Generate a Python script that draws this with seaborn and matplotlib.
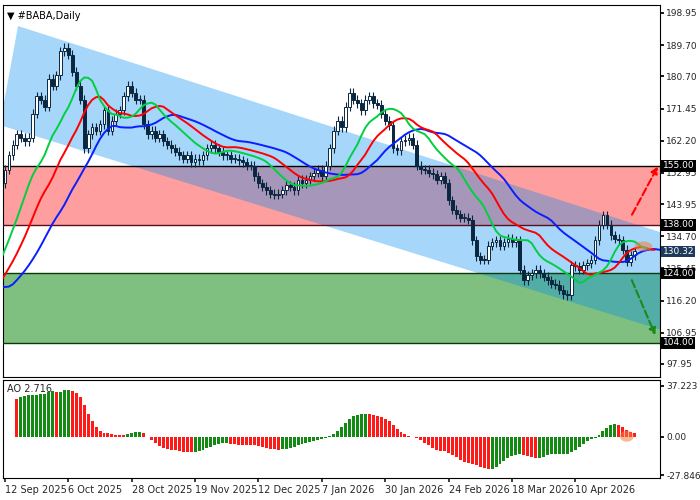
import numpy as np
import pandas as pd
import matplotlib
matplotlib.use("Agg")
import matplotlib.pyplot as plt
import matplotlib.transforms as mtrans
from matplotlib.patches import Polygon, Ellipse, Rectangle
import seaborn as sns

sns.set_theme(style="white")
plt.rcParams['font.family'] = ['DejaVu Sans']

# warm-up closes before the visible window (off-chart, feed the indicators)
prefix_close = [118,117,119,120,118,117,116,118,119,120,121,120,122,121,120,121,123,122,
                121,120,121,122,121,123,135,138,140,143,147,150]
close = [153.8,158,161,164,163,162,163,170,175,174,
         172,180,178,181,188,189,187,182,178,174,
         160,164,166,165,167,171,165,168,170,171,
         175,178,176,174,174,167,164,165,163,164,
         162,161,160,159,158,157,158,156,157,156.6,
         158,160,161,160,159,158,158,157,157,156.6,
         156,155,155,152,150,149,148,147,146.6,147,
         148,149.4,149,148,151,150,151,152,153,153.8,
         152,155,160,165,168,166,172,176,174,173,
         171,174,175,173,172.5,170,168,166.7,160,159.5,
         162,162.4,163,161,155,154,153.8,153,152.5,151,
         152,150,145,142.3,141,140,140,139.4,133.6,129,
         128,127.9,132,133,133.6,132,133,134,133,133.6,
         125,122,123.5,124,125,124,123,122,121,120.7,
         119.3,118,117.8,126.4,126,125,126.4,127,127.9,133.6,
         138,140.8,138,135,134,133.6,130.8,127.3,129.3,130.32]
wick = 1.3
date_labels = ["12 Sep 2025","6 Oct 2025","28 Oct 2025","19 Nov 2025","12 Dec 2025",
               "7 Jan 2026","30 Jan 2026","24 Feb 2026","18 Mar 2026","10 Apr 2026"]
date_idx = [0,16,32,48,64,80,96,112,128,144]
price_ticks = [198.95,189.70,180.70,171.45,162.20,152.95,143.95,134.70,125.45,116.20,106.95,97.95]
levels_red = (138.0, 155.0)
levels_green = (104.0, 124.0)
last_price = 130.32
channel_idx = [3.3, 175.5, 175.5, -1.3]
channel_price = [195.2, 132.2, 104.3, 166.7]
ao_ticks = [37.223, 0.0, -27.846]

allc = np.array(prefix_close + close, dtype=float)
opens = np.concatenate([[allc[0]], allc[:-1]])
highs = np.maximum(opens, allc) + wick
lows = np.minimum(opens, allc) - wick
npre = len(prefix_close)
x_all = np.arange(len(allc)) - npre
df = pd.DataFrame({"x": x_all, "o": opens, "c": allc, "h": highs, "l": lows})
df["med"] = (df.h + df.l) / 2

def smma(s, n):
    return s.ewm(alpha=1.0 / n, adjust=False).mean()

lips = smma(df.med, 5); teeth = smma(df.med, 8); jaw = smma(df.med, 13)
ao = df.med.rolling(5).mean() - df.med.rolling(34).mean()

fig = plt.figure(figsize=(7, 5), dpi=100)
W, H = 700, 500
ax = fig.add_axes([3/W, 1-377/H, 657/W, 372/H])
ax2 = fig.add_axes([3/W, 1-478/H, 657/W, 98/H])
xl = (-0.5, 165.4)
for a in (ax, ax2):
    a.set_xlim(*xl)
    a.yaxis.tick_right()
    for s in a.spines.values():
        s.set_color("black"); s.set_linewidth(0.8)
    a.tick_params(axis="y", labelsize=6.5, length=3, pad=1.5, color="black", direction="out", right=True)
    a.set_facecolor("white")

# zones
ax.axhspan(*levels_red, color=(1, 0, 0), alpha=0.38, lw=0, zorder=1)
ax.axhspan(*levels_green, color=(0, 0.5, 0), alpha=0.5, lw=0, zorder=1)
ax.add_patch(Polygon(list(zip(channel_idx, channel_price)), closed=True,
                     facecolor=(0, 0.55, 0.94), alpha=0.35, lw=0, zorder=2))
for lv, col in [(155, "black"), (138, "#5a0f1f"), (124, "#0a3a0a"), (104, "#0a3a0a")]:
    ax.axhline(lv, color=col, lw=1.0, zorder=3)

vis = df[df.x >= 0]
for _, r in vis.iterrows():
    up = r.c >= r.o
    ax.vlines(r.x, r.l, r.h, color="#0b2740", lw=0.8, zorder=4)
    bot, top = min(r.o, r.c), max(r.o, r.c)
    ax.add_patch(Rectangle((r.x - 0.35, bot), 0.7, max(top - bot, 0.3),
                           facecolor="white" if up else "#0b2740",
                           edgecolor="#0b2740", lw=0.7, zorder=5))

sns.lineplot(x=df.x + 8, y=jaw, ax=ax, color="#0a1eff", lw=1.4, zorder=6, legend=False)
sns.lineplot(x=df.x + 5, y=teeth, ax=ax, color="#ff0000", lw=1.4, zorder=6, legend=False)
sns.lineplot(x=df.x + 3, y=lips, ax=ax, color="#00d040", lw=1.4, zorder=6, legend=False)

ax.set_ylim(94.2, 201.25)
ax.set_yticks(price_ticks)
ax.set_yticklabels([f"{t:.2f}" for t in price_ticks])
ax.set_xticks([]); ax.set_xlabel(""); ax.set_ylabel("")

tr = mtrans.blended_transform_factory(ax.transAxes, ax.transData)
for lv, fc in [(155.0, "black"), (138.0, "black"), (124.0, "black"), (104.0, "black"), (last_price, "#1e3a5a")]:
    ax.text(1.004, lv, f"{lv:.2f}", transform=tr, fontsize=6.5, color="white", va="center", ha="left",
            bbox=dict(boxstyle="square,pad=0.15", fc=fc, ec="none"), zorder=10, clip_on=False)

ax.annotate("", xy=(165.2, 155.5), xytext=(158, 140.2),
            arrowprops=dict(arrowstyle="-|>", color="red", lw=1.5, ls="--", mutation_scale=10), zorder=9)
ax.annotate("", xy=(164.5, 105.5), xytext=(158, 122.8),
            arrowprops=dict(arrowstyle="-|>", color="#1a8a1a", lw=1.5, ls="--", mutation_scale=10), zorder=9)
ax.add_patch(Ellipse((161.2, 131.8), 4.5, 2.8, color="#f08040", alpha=0.55, zorder=8, lw=0))

ax.text(0.006, 0.985, "\u25bc #BABA,Daily", transform=ax.transAxes, fontsize=7, va="top", ha="left", color="black")

# AO
aov = ao[df.x >= 0].values
xv = vis.x.values
prev = ao.shift(1)[df.x >= 0].values
cols = np.where(aov >= prev, "#138a13", "#ff1a1a")
ax2.bar(xv, aov, width=0.75, color=cols, lw=0, zorder=3)
ax2.set_ylim(-30.0, 41.6)
ax2.set_yticks(ao_ticks)
ax2.set_yticklabels(["37.223", "0.00", "-27.846"])
ax2.add_patch(Ellipse((157, 0.5), 3.5, 8, color="#f08040", alpha=0.55, zorder=4, lw=0))
ax2.text(0.006, 0.96, f"AO {aov[-1]:.3f}", transform=ax2.transAxes, fontsize=7, va="top", ha="left")
ax2.set_xticks(date_idx)
ax2.set_xticklabels(date_labels, fontsize=7, ha="left")
ax2.tick_params(axis="x", length=3, pad=2, direction="out", bottom=True)

fig.savefig("out.png", dpi=100)
